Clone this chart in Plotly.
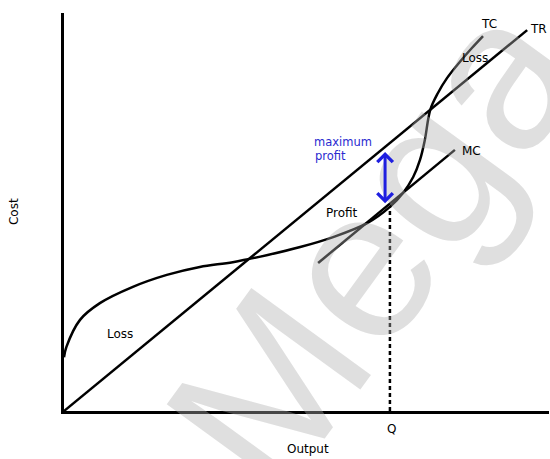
import plotly.graph_objects as go

# ---- data (arbitrary units: output 0-10, cost 0-10) ----
tr_x = [0.0, 9.55]
tr_y = [0.0, 9.57]

tc_x = [0.0, 0.05, 0.33, 0.74, 1.42, 2.12, 2.80, 3.48, 4.20, 4.87, 5.55, 6.25,
        6.72, 6.99, 7.20, 7.34, 7.44, 7.55, 7.71, 7.90, 8.16, 8.41, 8.64]
tc_y = [1.35, 1.61, 2.29, 2.71, 3.12, 3.42, 3.62, 3.74, 3.92, 4.12, 4.37, 4.72,
        5.13, 5.48, 5.88, 6.31, 6.81, 7.56, 7.99, 8.37, 8.77, 9.12, 9.42]

mc_x = [5.24, 8.06]
mc_y = [3.72, 6.56]

q_output = 6.72
q_cost = 5.13
arrow_x = 6.62
arrow_top = 6.51
arrow_bottom = 5.18

labels = [
    # text, x (data), y (data), xanchor, color, size
    ("TC", 8.76, 9.72, "center", "black", 12),
    ("TR", 9.99, 9.60, "right", "black", 12),
    ("Loss", 8.47, 8.87, "center", "black", 12),
    ("MC", 8.16, 6.53, "left", "black", 12),
    ("maximum", 5.11, 6.75, "left", "#2a2ad0", 11.5),
    ("profit", 5.13, 6.41, "left", "#2a2ad0", 11.5),
    ("Profit", 5.73, 4.97, "center", "black", 12),
    ("Loss", 1.15, 1.93, "center", "black", 12),
]
# labels below / left of the axes (paper coordinates)
q_label = ("Q", 6.76 / 10, -0.045)
x_title = ("Output", 5.03 / 10, -0.095)
y_title = ("Cost", -0.103, 0.50)

FONT = "DejaVu Sans"
FS = 12
LW = 2.5

fig = go.Figure()
fig.add_trace(go.Scatter(x=tr_x, y=tr_y, mode="lines",
                         line=dict(color="black", width=LW), hoverinfo="skip"))
fig.add_trace(go.Scatter(x=tc_x, y=tc_y, mode="lines",
                         line=dict(color="black", width=LW, shape="spline", smoothing=1.0),
                         hoverinfo="skip"))
fig.add_trace(go.Scatter(x=mc_x, y=mc_y, mode="lines",
                         line=dict(color="black", width=LW), hoverinfo="skip"))
fig.add_trace(go.Scatter(x=[q_output, q_output], y=[0, q_cost], mode="lines",
                         line=dict(color="black", width=2.5, dash="4px,3px"),
                         hoverinfo="skip"))

annotations = []
# watermark (faint)
annotations.append(dict(text="Mega", x=6.40, y=4.20, xref="x", yref="y",
                        showarrow=False, textangle=-54,
                        font=dict(family="Liberation Sans", size=215,
                                  color="rgba(175,175,175,0.40)")))
for t, x, y, xa, c, s in labels:
    annotations.append(dict(text=t, x=x, y=y, xref="x", yref="y", showarrow=False,
                            xanchor=xa, yanchor="middle",
                            font=dict(family=FONT, size=s, color=c)))
for t, x, y in (q_label, x_title):
    annotations.append(dict(text=t, x=x, y=y, xref="paper", yref="paper",
                            showarrow=False, xanchor="center", yanchor="middle",
                            font=dict(family=FONT, size=FS, color="black")))
annotations.append(dict(text=y_title[0], x=y_title[1], y=y_title[2],
                        xref="paper", yref="paper", showarrow=False, textangle=-90,
                        xanchor="center", yanchor="middle",
                        font=dict(family=FONT, size=FS, color="black")))
annotations.append(dict(x=arrow_x, y=arrow_top, ax=arrow_x, ay=arrow_bottom,
                        xref="x", yref="y", axref="x", ayref="y", text="",
                        showarrow=True, arrowhead=4, startarrowhead=4,
                        arrowside="end+start", arrowsize=1, startarrowsize=1,
                        arrowwidth=3, arrowcolor="#1f1fe0"))

fig.update_layout(
    width=550, height=459,
    margin=dict(l=64, r=1, t=13, b=48),
    paper_bgcolor="white", plot_bgcolor="white",
    showlegend=False,
    annotations=annotations,
    xaxis=dict(range=[0, 10], showline=True, linecolor="black", linewidth=LW,
               showgrid=False, zeroline=False, showticklabels=False, ticks="",
               fixedrange=True),
    yaxis=dict(range=[0, 10], showline=True, linecolor="black", linewidth=LW,
               showgrid=False, zeroline=False, showticklabels=False, ticks="",
               fixedrange=True),
)

fig.write_html("out.html", config={"displayModeBar": False},
               post_script="document.body.style.margin='0px';document.body.style.overflow='hidden';")
